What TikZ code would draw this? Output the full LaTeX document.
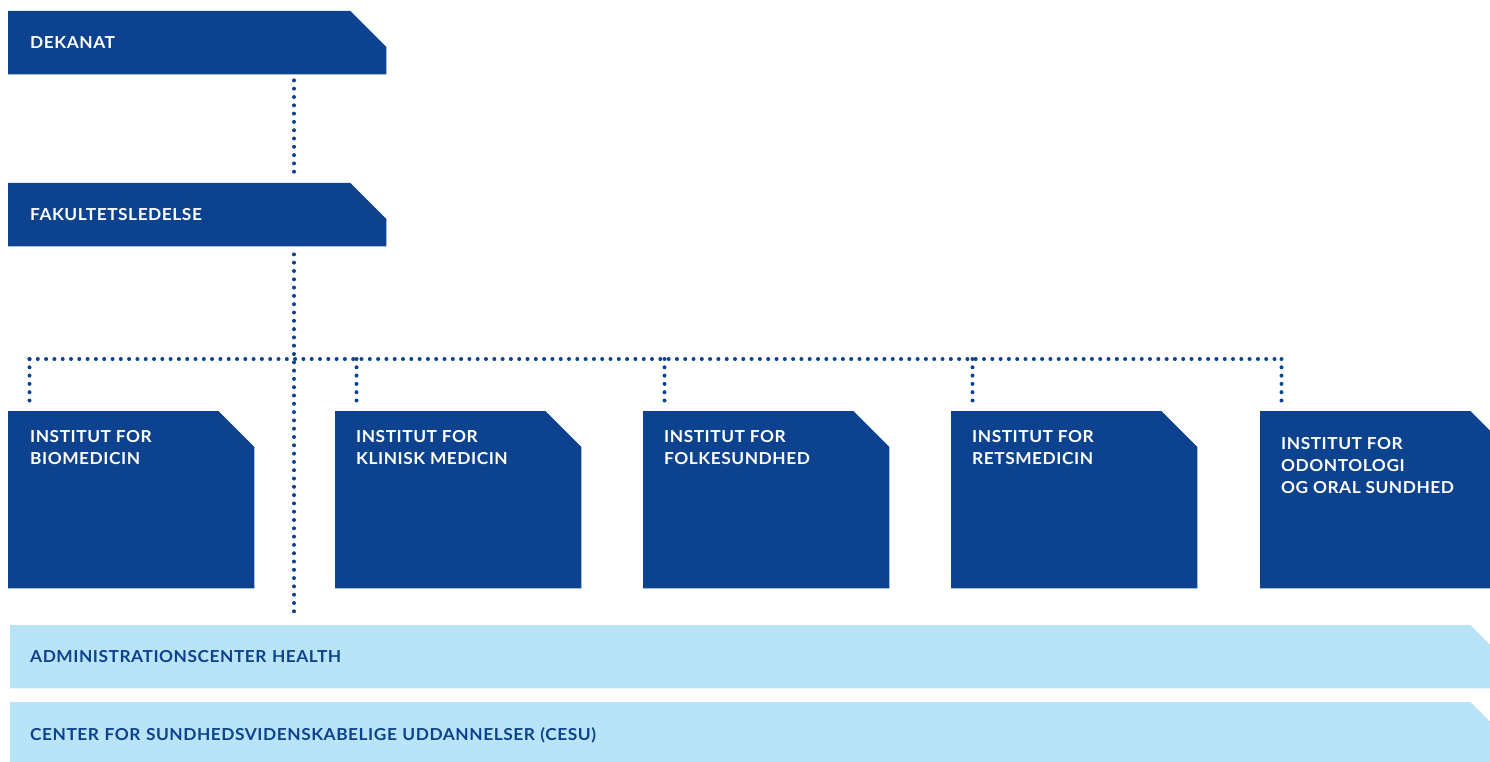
\documentclass[tikz,border=0pt]{standalone}
\usepackage{fontspec}
\setmainfont{Lato}[FakeStretch=1.05,LetterSpace=3.2]
\usepackage{xcolor}
\usetikzlibrary{backgrounds}

\definecolor{kudark}{RGB}{12,66,142}
\definecolor{kulight}{RGB}{185,228,248}

\begin{document}
\begin{tikzpicture}[x=1pt,y=-1pt,
	lbl/.style={font=\bfseries\fontsize{16.5}{22}\selectfont},
	box/.style={lbl,rectangle,inner sep=0pt,inner xsep=22pt,minimum height=63pt,align=left,anchor=north west},
	topbox/.style={box,text width=334pt,text=white},
	band/.style={box,inner xsep=20pt,text width=1456pt,text=kudark},
	inst/.style={rectangle,inner sep=0pt,minimum width=246pt,minimum height=177pt,anchor=north west},
	insttxt/.style={lbl,inner sep=0pt,anchor=north west,align=left,text=white},
	dots/.style={kudark,line width=4pt,line cap=round,dash pattern=on 0pt off 8.3pt}]
	\useasboundingbox (0,0) rectangle (1490,762);

	% ledelse
	\node[topbox] (dek) at (8,11) {DEKANAT};
	\node[topbox] (fak) at (8,183) {FAKULTETSLEDELSE};

	% institutter
	\node[inst] (bio) at (8,411) {};
	\node[inst] (klin) at (335,411) {};
	\node[inst] (folk) at (643,411) {};
	\node[inst] (rets) at (951,411) {};
	\node[inst] (odo) at (1260,411) {};
	\node[insttxt] (biot) at ([xshift=22pt,yshift=-19pt]bio.north west) {INSTITUT FOR\\BIOMEDICIN};
	\node[insttxt] (klint) at ([xshift=21pt,yshift=-19pt]klin.north west) {INSTITUT FOR\\KLINISK MEDICIN};
	\node[insttxt] (folkt) at ([xshift=21pt,yshift=-19pt]folk.north west) {INSTITUT FOR\\FOLKESUNDHED};
	\node[insttxt] (retst) at ([xshift=21pt,yshift=-19pt]rets.north west) {INSTITUT FOR\\RETSMEDICIN};
	\node[insttxt] (odot) at ([xshift=21pt,yshift=-26pt]odo.north west) {INSTITUT FOR\\ODONTOLOGI\\OG ORAL SUNDHED};

	% faelles enheder
	\node[band,minimum height=63pt] (adm) at (10,625) {ADMINISTRATIONSCENTER HEALTH};
	\node[band,minimum height=66pt] (cesu) at (10,702) {CENTER FOR SUNDHEDSVIDENSKABELIGE UDDANNELSER (CESU)};

	\begin{scope}[on background layer]
		\foreach \n/\c in {dek/kudark,fak/kudark,bio/kudark,klin/kudark,folk/kudark,rets/kudark,odo/kudark,adm/kulight,cesu/kulight}
			\fill[\c] (\n.south west) |- ([xshift=-36pt]\n.north east) -- ([yshift=-36pt]\n.north east) -- (\n.south east) -- cycle;
	\end{scope}

	% forbindelser
	\coordinate (rail) at (0,359);
	\foreach \n in {bio,klin,folk,rets,odo}
		\coordinate (\n drop) at ([xshift=21.5pt,yshift=4pt]\n.north west);
	\draw[dots] ([xshift=286pt,yshift=-6pt]dek.south west) -- ([xshift=286pt,yshift=5pt]fak.north west);
	\draw[dots] ([xshift=286pt,yshift=-8pt]fak.south west) -- ([xshift=284pt,yshift=8pt]adm.north west);
	\draw[dots] (biodrop |- rail) -- (ododrop |- rail);
	\foreach \n in {bio,klin,folk,rets,odo}
		\draw[dots] (\n drop |- rail) -- (\n drop);
\end{tikzpicture}
\end{document}
